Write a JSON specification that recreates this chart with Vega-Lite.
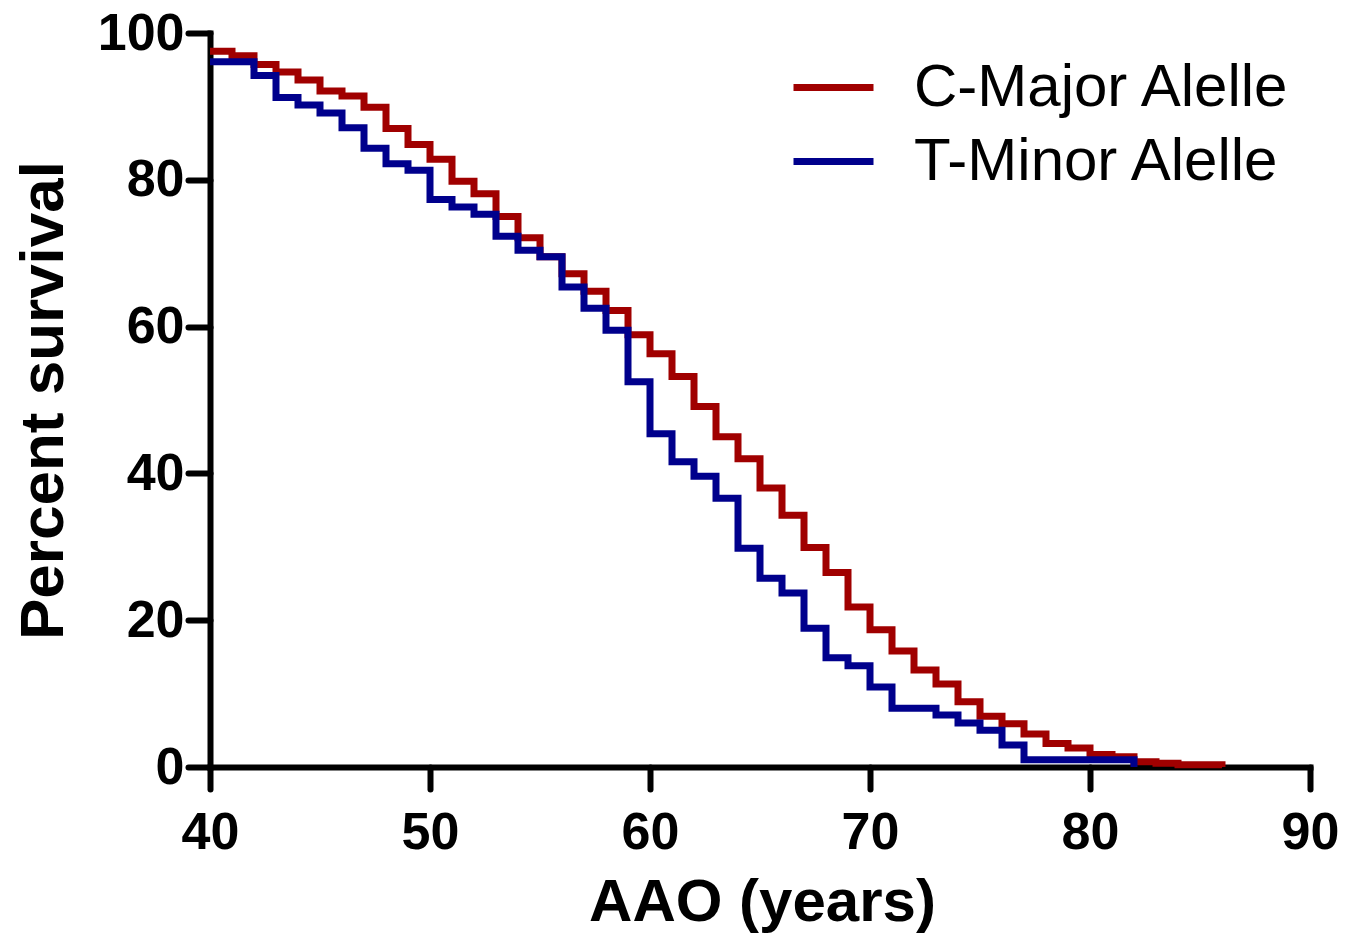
{
  "$schema": "https://vega.github.io/schema/vega-lite/v6.json",
  "autosize": {"type": "none"},
  "width": 1100,
  "height": 734,
  "padding": {"left": 210, "top": 33, "right": 52, "bottom": 180},
  "background": "white",
  "config": {"view": {"stroke": null}, "font": "Liberation Sans"},
  "data": {"values": [
    {"allele": "C-Major Alelle", "age": 40, "pct": 97.5},
    {"allele": "C-Major Alelle", "age": 41, "pct": 96.9},
    {"allele": "C-Major Alelle", "age": 42, "pct": 95.7},
    {"allele": "C-Major Alelle", "age": 43, "pct": 94.7},
    {"allele": "C-Major Alelle", "age": 44, "pct": 93.6},
    {"allele": "C-Major Alelle", "age": 45, "pct": 92.1},
    {"allele": "C-Major Alelle", "age": 46, "pct": 91.4},
    {"allele": "C-Major Alelle", "age": 47, "pct": 89.9},
    {"allele": "C-Major Alelle", "age": 48, "pct": 87.0},
    {"allele": "C-Major Alelle", "age": 49, "pct": 84.8},
    {"allele": "C-Major Alelle", "age": 50, "pct": 82.8},
    {"allele": "C-Major Alelle", "age": 51, "pct": 79.8},
    {"allele": "C-Major Alelle", "age": 52, "pct": 78.1},
    {"allele": "C-Major Alelle", "age": 53, "pct": 75.0},
    {"allele": "C-Major Alelle", "age": 54, "pct": 72.1},
    {"allele": "C-Major Alelle", "age": 55, "pct": 69.5},
    {"allele": "C-Major Alelle", "age": 56, "pct": 67.2},
    {"allele": "C-Major Alelle", "age": 57, "pct": 64.8},
    {"allele": "C-Major Alelle", "age": 58, "pct": 62.2},
    {"allele": "C-Major Alelle", "age": 59, "pct": 58.9},
    {"allele": "C-Major Alelle", "age": 60, "pct": 56.3},
    {"allele": "C-Major Alelle", "age": 61, "pct": 53.2},
    {"allele": "C-Major Alelle", "age": 62, "pct": 49.1},
    {"allele": "C-Major Alelle", "age": 63, "pct": 45.0},
    {"allele": "C-Major Alelle", "age": 64, "pct": 42.0},
    {"allele": "C-Major Alelle", "age": 65, "pct": 38.0},
    {"allele": "C-Major Alelle", "age": 66, "pct": 34.3},
    {"allele": "C-Major Alelle", "age": 67, "pct": 29.9},
    {"allele": "C-Major Alelle", "age": 68, "pct": 26.5},
    {"allele": "C-Major Alelle", "age": 69, "pct": 21.8},
    {"allele": "C-Major Alelle", "age": 70, "pct": 18.7},
    {"allele": "C-Major Alelle", "age": 71, "pct": 15.8},
    {"allele": "C-Major Alelle", "age": 72, "pct": 13.2},
    {"allele": "C-Major Alelle", "age": 73, "pct": 11.3},
    {"allele": "C-Major Alelle", "age": 74, "pct": 8.9},
    {"allele": "C-Major Alelle", "age": 75, "pct": 6.9},
    {"allele": "C-Major Alelle", "age": 76, "pct": 5.9},
    {"allele": "C-Major Alelle", "age": 77, "pct": 4.5},
    {"allele": "C-Major Alelle", "age": 78, "pct": 3.2},
    {"allele": "C-Major Alelle", "age": 79, "pct": 2.6},
    {"allele": "C-Major Alelle", "age": 80, "pct": 1.7},
    {"allele": "C-Major Alelle", "age": 81, "pct": 1.4},
    {"allele": "C-Major Alelle", "age": 82, "pct": 0.7},
    {"allele": "C-Major Alelle", "age": 83, "pct": 0.5},
    {"allele": "C-Major Alelle", "age": 84, "pct": 0.3},
    {"allele": "C-Major Alelle", "age": 85, "pct": 0.3},
    {"allele": "C-Major Alelle", "age": 86, "pct": 0.0},
    {"allele": "T-Minor Alelle", "age": 40, "pct": 96.1},
    {"allele": "T-Minor Alelle", "age": 41, "pct": 96.1},
    {"allele": "T-Minor Alelle", "age": 42, "pct": 94.2},
    {"allele": "T-Minor Alelle", "age": 43, "pct": 91.2},
    {"allele": "T-Minor Alelle", "age": 44, "pct": 90.2},
    {"allele": "T-Minor Alelle", "age": 45, "pct": 89.1},
    {"allele": "T-Minor Alelle", "age": 46, "pct": 87.1},
    {"allele": "T-Minor Alelle", "age": 47, "pct": 84.3},
    {"allele": "T-Minor Alelle", "age": 48, "pct": 82.2},
    {"allele": "T-Minor Alelle", "age": 49, "pct": 81.3},
    {"allele": "T-Minor Alelle", "age": 50, "pct": 77.3},
    {"allele": "T-Minor Alelle", "age": 51, "pct": 76.3},
    {"allele": "T-Minor Alelle", "age": 52, "pct": 75.3},
    {"allele": "T-Minor Alelle", "age": 53, "pct": 72.3},
    {"allele": "T-Minor Alelle", "age": 54, "pct": 70.4},
    {"allele": "T-Minor Alelle", "age": 55, "pct": 69.5},
    {"allele": "T-Minor Alelle", "age": 56, "pct": 65.4},
    {"allele": "T-Minor Alelle", "age": 57, "pct": 62.5},
    {"allele": "T-Minor Alelle", "age": 58, "pct": 59.5},
    {"allele": "T-Minor Alelle", "age": 59, "pct": 52.5},
    {"allele": "T-Minor Alelle", "age": 60, "pct": 45.4},
    {"allele": "T-Minor Alelle", "age": 61, "pct": 41.6},
    {"allele": "T-Minor Alelle", "age": 62, "pct": 39.6},
    {"allele": "T-Minor Alelle", "age": 63, "pct": 36.6},
    {"allele": "T-Minor Alelle", "age": 64, "pct": 29.8},
    {"allele": "T-Minor Alelle", "age": 65, "pct": 25.7},
    {"allele": "T-Minor Alelle", "age": 66, "pct": 23.7},
    {"allele": "T-Minor Alelle", "age": 67, "pct": 18.9},
    {"allele": "T-Minor Alelle", "age": 68, "pct": 14.9},
    {"allele": "T-Minor Alelle", "age": 69, "pct": 13.8},
    {"allele": "T-Minor Alelle", "age": 70, "pct": 10.9},
    {"allele": "T-Minor Alelle", "age": 71, "pct": 8.0},
    {"allele": "T-Minor Alelle", "age": 72, "pct": 8.0},
    {"allele": "T-Minor Alelle", "age": 73, "pct": 7.1},
    {"allele": "T-Minor Alelle", "age": 74, "pct": 6.0},
    {"allele": "T-Minor Alelle", "age": 75, "pct": 5.0},
    {"allele": "T-Minor Alelle", "age": 76, "pct": 3.0},
    {"allele": "T-Minor Alelle", "age": 77, "pct": 1.0},
    {"allele": "T-Minor Alelle", "age": 78, "pct": 1.0},
    {"allele": "T-Minor Alelle", "age": 79, "pct": 1.0},
    {"allele": "T-Minor Alelle", "age": 80, "pct": 1.0},
    {"allele": "T-Minor Alelle", "age": 81, "pct": 1.0},
    {"allele": "T-Minor Alelle", "age": 82, "pct": 0.0}
  ]},
  "mark": {"type": "line", "interpolate": "step-after", "strokeWidth": 7, "strokeJoin": "miter", "strokeCap": "butt"},
  "encoding": {
    "x": {
      "field": "age", "type": "quantitative",
      "scale": {"domain": [40, 90], "nice": false, "zero": false},
      "axis": {
        "values": [40, 50, 60, 70, 80, 90],
        "title": "AAO (years)",
        "grid": false,
        "domainColor": "black", "domainWidth": 6, "domainCap": "square",
        "tickColor": "black", "tickWidth": 6, "tickSize": 22, "tickCap": "round",
        "labelFont": "Liberation Sans", "labelFontWeight": "bold", "labelFontSize": 52, "labelColor": "black",
        "labelBaseline": "alphabetic", "labelPadding": 59, "labelFlush": false,
        "titleFont": "Liberation Sans", "titleFontWeight": "bold", "titleFontSize": 60, "titleColor": "black",
        "titleX": 552, "titleY": 153, "titleBaseline": "alphabetic", "titleAlign": "center"
      }
    },
    "y": {
      "field": "pct", "type": "quantitative",
      "scale": {"domain": [0, 100], "nice": false},
      "axis": {
        "values": [0, 20, 40, 60, 80, 100],
        "title": "Percent survival",
        "grid": false,
        "domainColor": "black", "domainWidth": 6, "domainCap": "square",
        "tickColor": "black", "tickWidth": 6, "tickSize": 22, "tickCap": "round",
        "labelFont": "Liberation Sans", "labelFontWeight": "bold", "labelFontSize": 52, "labelColor": "black",
        "labelPadding": 4, "labelFlush": false,
        "titleFont": "Liberation Sans", "titleFontWeight": "bold", "titleFontSize": 62, "titleColor": "black",
        "titleX": -148, "titleY": 367, "titleBaseline": "alphabetic", "titleAlign": "center", "titleAngle": -90
      }
    },
    "color": {
      "field": "allele", "type": "nominal",
      "scale": {"domain": ["C-Major Alelle", "T-Minor Alelle"], "range": ["#a00000", "#00008c"]},
      "legend": {
        "title": null,
        "orient": "none", "legendX": 580, "legendY": 11,
        "padding": 0,
        "symbolType": "stroke", "symbolSize": 6400, "symbolStrokeWidth": 7,
        "labelFont": "Liberation Sans", "labelFontSize": 60, "labelColor": "black",
        "labelOffset": 37, "labelLimit": 600, "rowPadding": 0
      }
    }
  }
}
